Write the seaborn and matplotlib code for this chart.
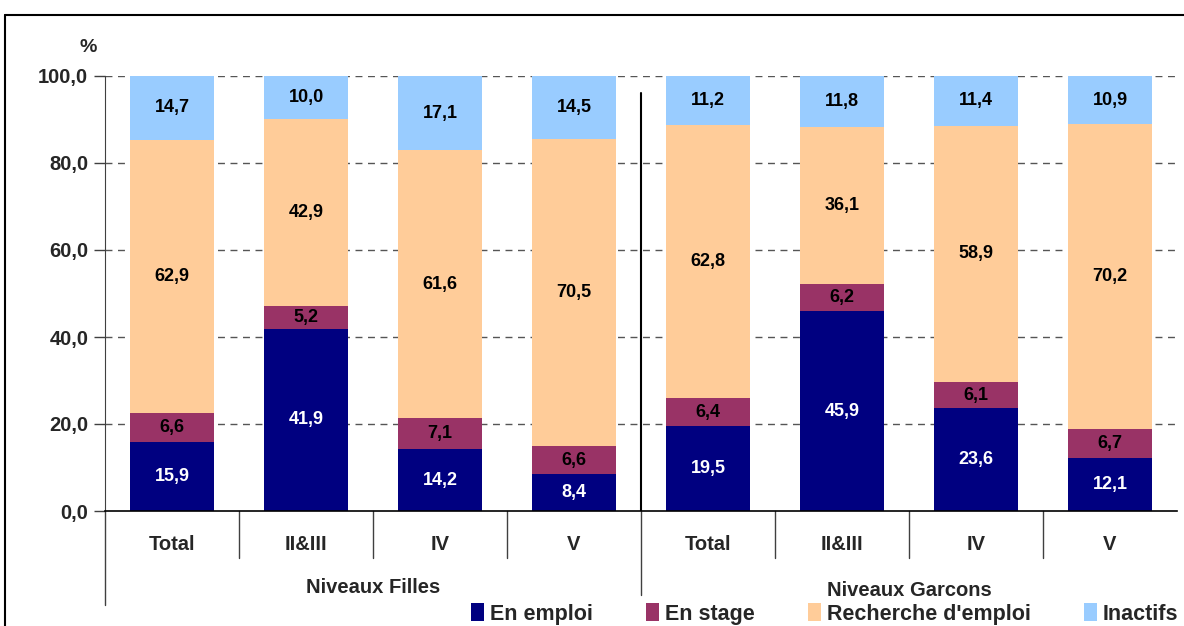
import numpy as np
import pandas as pd
import matplotlib
matplotlib.use("Agg")
import matplotlib.pyplot as plt
import seaborn as sns
from matplotlib.lines import Line2D
from matplotlib.patches import Patch
import matplotlib.transforms as mtransforms

sns.set_style("white")
plt.rcParams['font.family'] = ['Liberation Sans', 'DejaVu Sans']
plt.rcParams['font.weight'] = 'bold'

# ---- data ----
categories = ["Total", "II&III", "IV", "V", "Total", "II&III", "IV", "V"]
groups = ["Niveaux Filles", "Niveaux Garcons"]
series = ["En emploi", "En stage", "Recherche d'emploi", "Inactifs"]
en_emploi = [15.9, 41.9, 14.2, 8.4, 19.5, 45.9, 23.6, 12.1]
en_stage = [6.6, 5.2, 7.1, 6.6, 6.4, 6.2, 6.1, 6.7]
recherche = [62.9, 42.9, 61.6, 70.5, 62.8, 36.1, 58.9, 70.2]
inactifs = [14.7, 10.0, 17.1, 14.5, 11.2, 11.8, 11.4, 10.9]
yticks = [0, 20, 40, 60, 80, 100]

colors = ["#000080", "#993366", "#FFCC99", "#99CCFF"]
text_colors = ["white", "black", "black", "black"]

keys = [f"{i}" for i in range(len(categories))]
vals = np.array([en_emploi, en_stage, recherche, inactifs])
cum = np.cumsum(vals, axis=0)

df = pd.DataFrame({"key": keys})
for s, c in zip(series, cum):
    df[s] = c

fig = plt.figure(figsize=(11.84, 6.26), dpi=100)
ax = fig.add_axes([105/1184, 1-511/626, (1177-105)/1184, (511-76)/626])

# draw back-to-front cumulative bars
for s, col in reversed(list(zip(series, colors))):
    sns.barplot(data=df, x="key", y=s, color=col, width=0.63, ax=ax,
                saturation=1, edgecolor="none", linewidth=0)

# value labels
for j in range(vals.shape[0]):
    for i in range(vals.shape[1]):
        center = cum[j, i] - vals[j, i] / 2
        ax.text(i, center, f"{vals[j, i]:.1f}".replace(".", ","),
                ha="center", va="center", fontsize=13, fontweight="bold",
                color=text_colors[j])

ax.set_ylim(0, 100)
ax.set_xlim(-0.5, len(categories) - 0.5)
ax.set_yticks(yticks)
ax.set_yticklabels([f"{v:.1f}".replace(".", ",") for v in yticks],
                   fontsize=14.5, fontweight="bold")
ax.set_xticks([])
ax.set_xlabel("")
ax.set_ylabel("")
ax.tick_params(axis="y", direction="out", length=8, width=1, color="#404040", pad=4, left=True)

for y in yticks[1:]:
    ax.axhline(y, color="#555555", linestyle=(0, (5, 4)), linewidth=1, zorder=0)

for sp in ["top", "right"]:
    ax.spines[sp].set_visible(False)
ax.spines["left"].set_color("#404040")
ax.spines["bottom"].set_color("black")
ax.spines["bottom"].set_linewidth(1.2)

# group separator inside plot
ax.plot([3.5, 3.5], [0, 96], color="black", linewidth=1.5, zorder=5)

trans = mtransforms.blended_transform_factory(ax.transData, ax.transAxes)
for b in [0.5, 1.5, 2.5, 4.5, 5.5, 6.5]:
    ax.plot([b, b], [0, -0.108], transform=trans, color="#404040", linewidth=1, clip_on=False)
ax.plot([3.5, 3.5], [0, -0.193], transform=trans, color="#404040", linewidth=1, clip_on=False)
ax.plot([-0.5, -0.5], [0, -0.216], transform=trans, color="#404040", linewidth=1, clip_on=False)

for i, c in enumerate(categories):
    ax.text(i, -0.076, c, transform=trans, ha="center", va="center",
            fontsize=14.5, fontweight="bold")
ax.text(1.5, -0.177, groups[0], transform=trans, ha="center", va="center",
        fontsize=14.5, fontweight="bold")
ax.text(5.5, -0.182, groups[1], transform=trans, ha="center", va="center",
        fontsize=14.5, fontweight="bold")

ax.text(88/1184, 1-48/626, "%", transform=fig.transFigure, ha="center", va="center",
        fontsize=14, fontweight="bold")

# legend
handles = [Patch(facecolor=c, edgecolor="none") for c in colors]
fig.legend(handles, series, loc="center right", bbox_to_anchor=(1178/1184, 1-614/626),
           ncol=4, frameon=False, handlelength=0.6, handleheight=0.9,
           handletextpad=0.25, columnspacing=2.5, borderpad=0, borderaxespad=0,
           prop={"weight": "bold", "size": 15.5})

# outer frame
fig.add_artist(Line2D([5/1184, 5/1184], [0, 1-15/626], transform=fig.transFigure,
                      color="black", linewidth=1.5))
fig.add_artist(Line2D([5/1184, 1], [1-15/626, 1-15/626], transform=fig.transFigure,
                      color="black", linewidth=1.5))

fig.savefig("out.png", dpi=100)
